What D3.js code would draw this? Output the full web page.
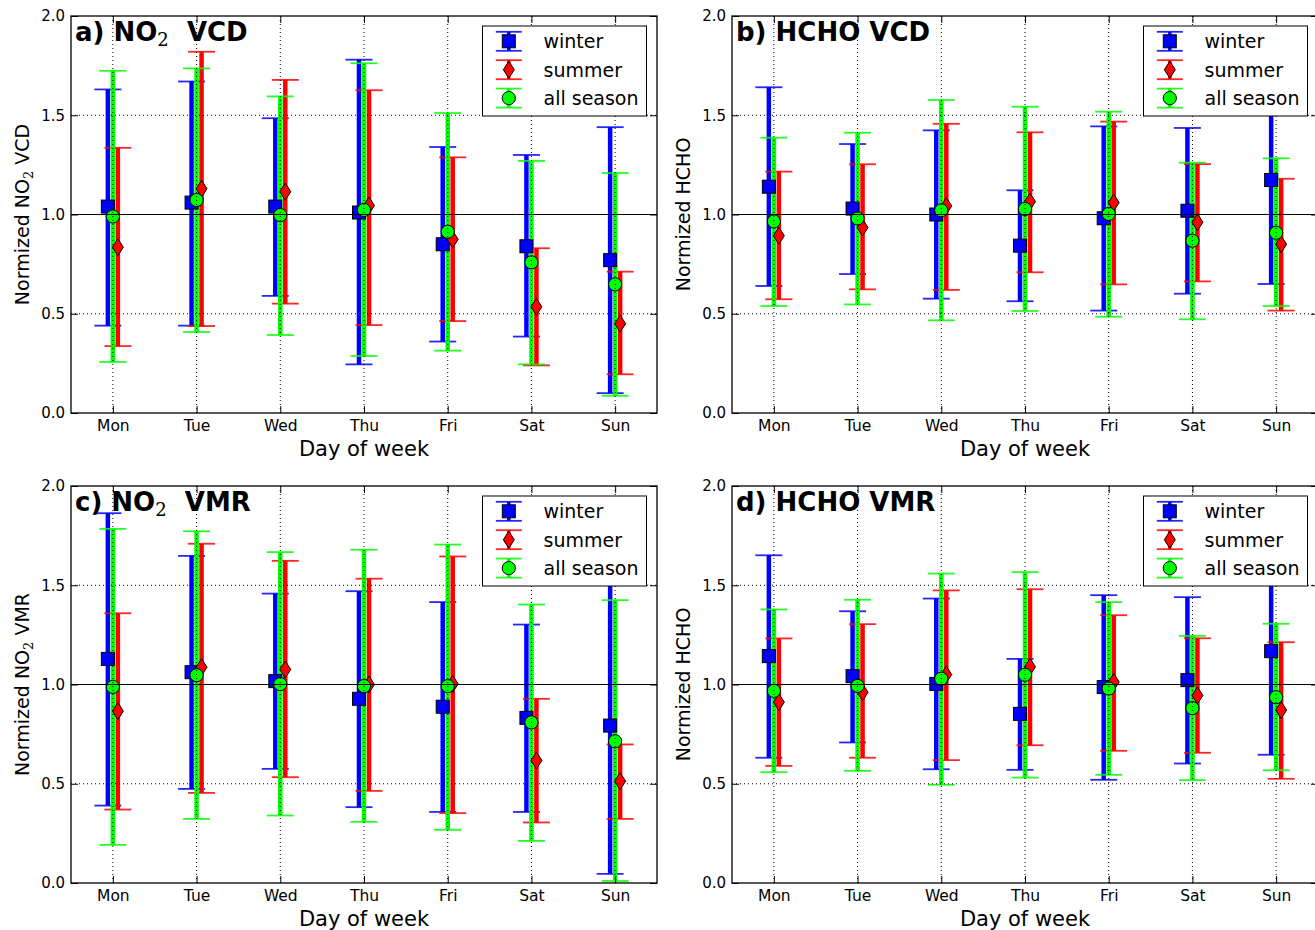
<!DOCTYPE html>
<html>
<head>
<meta charset="utf-8">
<script src="https://cdn.jsdelivr.net/npm/d3@7"></script>
<style>
  body { margin: 0; background: #fff; }
  svg { display: block; }
</style>
</head>
<body>
<svg id="fig" width="1315" height="930"></svg>
<script>
// ---- data -------------------------------------------------------------
const days = ["Mon", "Tue", "Wed", "Thu", "Fri", "Sat", "Sun"];
const yTicks = [0.0, 0.5, 1.0, 1.5, 2.0];
const seasons = ["winter", "summer", "all season"];

// a) NO2 VCD
const no2VcdWinterMean = [1.04, 1.06, 1.04, 1.01, 0.85, 0.84, 0.77];
const no2VcdWinterLow  = [0.44, 0.44, 0.59, 0.245, 0.36, 0.385, 0.10];
const no2VcdWinterHigh = [1.63, 1.67, 1.485, 1.78, 1.34, 1.30, 1.44];
const no2VcdSummerMean = [0.835, 1.13, 1.115, 1.045, 0.875, 0.535, 0.45];
const no2VcdSummerLow  = [0.337, 0.438, 0.551, 0.443, 0.463, 0.24, 0.195];
const no2VcdSummerHigh = [1.336, 1.82, 1.678, 1.626, 1.288, 0.83, 0.712];
const no2VcdAllMean    = [0.99, 1.073, 0.997, 1.023, 0.913, 0.759, 0.648];
const no2VcdAllLow     = [0.257, 0.408, 0.393, 0.287, 0.314, 0.245, 0.087];
const no2VcdAllHigh    = [1.724, 1.736, 1.595, 1.762, 1.511, 1.27, 1.209];

// b) HCHO VCD
const hchoVcdWinterMean = [1.14, 1.03, 1.0, 0.843, 0.981, 1.019, 1.174];
const hchoVcdWinterLow  = [0.64, 0.70, 0.576, 0.563, 0.516, 0.601, 0.65];
const hchoVcdWinterHigh = [1.641, 1.355, 1.424, 1.122, 1.444, 1.436, 1.66];
const hchoVcdSummerMean = [0.893, 0.934, 1.043, 1.065, 1.06, 0.961, 0.85];
const hchoVcdSummerLow  = [0.573, 0.623, 0.62, 0.709, 0.648, 0.663, 0.516];
const hchoVcdSummerHigh = [1.216, 1.253, 1.457, 1.414, 1.468, 1.254, 1.18];
const hchoVcdAllMean    = [0.965, 0.98, 1.021, 1.028, 1.003, 0.868, 0.908];
const hchoVcdAllLow     = [0.539, 0.547, 0.467, 0.514, 0.485, 0.472, 0.539];
const hchoVcdAllHigh    = [1.387, 1.412, 1.577, 1.543, 1.518, 1.261, 1.283];

// c) NO2 VMR
const no2VmrWinterMean = [1.129, 1.062, 1.017, 0.928, 0.888, 0.832, 0.793];
const no2VmrWinterLow  = [0.39, 0.474, 0.575, 0.382, 0.358, 0.358, 0.046];
const no2VmrWinterHigh = [1.863, 1.648, 1.458, 1.47, 1.415, 1.302, 1.60];
const no2VmrSummerMean = [0.866, 1.087, 1.076, 1.0, 1.003, 0.617, 0.513];
const no2VmrSummerLow  = [0.37, 0.454, 0.533, 0.464, 0.352, 0.305, 0.323];
const no2VmrSummerHigh = [1.359, 1.709, 1.623, 1.533, 1.645, 0.928, 0.698];
const no2VmrAllMean    = [0.988, 1.047, 1.002, 0.992, 0.992, 0.809, 0.714];
const no2VmrAllLow     = [0.192, 0.323, 0.34, 0.308, 0.268, 0.212, 0.01];
const no2VmrAllHigh    = [1.784, 1.772, 1.667, 1.679, 1.705, 1.403, 1.425];

// d) HCHO VMR
const hchoVmrWinterMean = [1.143, 1.042, 1.003, 0.852, 0.987, 1.022, 1.168];
const hchoVmrWinterLow  = [0.631, 0.708, 0.573, 0.57, 0.52, 0.602, 0.646];
const hchoVmrWinterHigh = [1.651, 1.369, 1.433, 1.129, 1.45, 1.44, 1.66];
const hchoVmrSummerMean = [0.911, 0.961, 1.05, 1.089, 1.013, 0.945, 0.871];
const hchoVmrSummerLow  = [0.59, 0.631, 0.619, 0.694, 0.666, 0.656, 0.525];
const hchoVmrSummerHigh = [1.232, 1.304, 1.474, 1.48, 1.349, 1.233, 1.213];
const hchoVmrAllMean    = [0.968, 0.993, 1.029, 1.049, 0.98, 0.881, 0.936];
const hchoVmrAllLow     = [0.558, 0.565, 0.495, 0.531, 0.545, 0.518, 0.568];
const hchoVmrAllHigh    = [1.378, 1.427, 1.559, 1.566, 1.415, 1.245, 1.306];

// ---- panel definitions ------------------------------------------------
const panels = [
  { left: 71,  top: 16,
    title: { pre: "a) NO", sub: "2", post: "  VCD" },
    ylabel: { pre: "Normized NO", sub: "2", post: " VCD" },
    series: [
      { mean: no2VcdWinterMean, low: no2VcdWinterLow, high: no2VcdWinterHigh },
      { mean: no2VcdSummerMean, low: no2VcdSummerLow, high: no2VcdSummerHigh },
      { mean: no2VcdAllMean,    low: no2VcdAllLow,    high: no2VcdAllHigh } ] },
  { left: 732, top: 16,
    title: { pre: "b) HCHO VCD" },
    ylabel: { pre: "Normized HCHO" },
    series: [
      { mean: hchoVcdWinterMean, low: hchoVcdWinterLow, high: hchoVcdWinterHigh },
      { mean: hchoVcdSummerMean, low: hchoVcdSummerLow, high: hchoVcdSummerHigh },
      { mean: hchoVcdAllMean,    low: hchoVcdAllLow,    high: hchoVcdAllHigh } ] },
  { left: 71,  top: 486,
    title: { pre: "c) NO", sub: "2", post: "  VMR" },
    ylabel: { pre: "Normized NO", sub: "2", post: " VMR" },
    series: [
      { mean: no2VmrWinterMean, low: no2VmrWinterLow, high: no2VmrWinterHigh },
      { mean: no2VmrSummerMean, low: no2VmrSummerLow, high: no2VmrSummerHigh },
      { mean: no2VmrAllMean,    low: no2VmrAllLow,    high: no2VmrAllHigh } ] },
  { left: 732, top: 486,
    title: { pre: "d) HCHO VMR" },
    ylabel: { pre: "Normized HCHO" },
    series: [
      { mean: hchoVmrWinterMean, low: hchoVmrWinterLow, high: hchoVmrWinterHigh },
      { mean: hchoVmrSummerMean, low: hchoVmrSummerLow, high: hchoVmrSummerHigh },
      { mean: hchoVmrAllMean,    low: hchoVmrAllLow,    high: hchoVmrAllHigh } ] }
];

// per-season drawing style (pixel offset keeps the three bars side by side)
const seasonStyle = [
  { color: "#0000ff", dx: -5, marker: "square" },
  { color: "#ff0000", dx: 5,  marker: "diamond" },
  { color: "#00ff00", dx: 0,  marker: "circle" }
];

const W = 586, H = 397;
const FONT = "DejaVu Sans";
const SUBFONT = "DejaVu Serif";

const svg = d3.select("#fig");

function mixedText(sel, parts, subSize, shift) {
  sel.style("white-space", "pre");
  sel.append("tspan").text(parts.pre);
  if (parts.sub) {
    sel.append("tspan")
      .attr("font-family", SUBFONT).attr("font-weight", "normal")
      .attr("font-size", subSize).attr("dy", shift).text(parts.sub);
    sel.append("tspan").attr("dy", -shift).text(parts.post);
  }
}

function drawMarker(sel, type, cx, cy, color) {
  if (type === "square") {
    sel.append("rect").attr("x", cx - 6.5).attr("y", cy - 6.5)
      .attr("width", 13).attr("height", 13)
      .attr("fill", color).attr("stroke", "#000").attr("stroke-width", 1);
  } else if (type === "circle") {
    sel.append("circle").attr("cx", cx).attr("cy", cy).attr("r", 6.6)
      .attr("fill", color).attr("stroke", "#000").attr("stroke-width", 1);
  } else {
    sel.append("path")
      .attr("d", `M${cx},${cy - 8.5}L${cx + 5.5},${cy}L${cx},${cy + 8.5}L${cx - 5.5},${cy}Z`)
      .attr("fill", color).attr("stroke", "#000").attr("stroke-width", 1);
  }
}

function drawPanel(p) {
  const g = svg.append("g");
  const x = d3.scaleLinear().domain([0.5, days.length + 0.5]).range([p.left, p.left + W]);
  const y = d3.scaleLinear().domain([yTicks[0], yTicks[yTicks.length - 1]]).range([p.top + H, p.top]);

  g.append("rect").attr("x", p.left).attr("y", p.top).attr("width", W).attr("height", H).attr("fill", "#fff");

  // error bars with caps for every season
  const barLayer = g.append("g");
  const markerLayer = g.append("g");
  p.series.forEach((s, si) => {
    const st = seasonStyle[si];
    const sg = barLayer.append("g");
    const xs = i => x(i + 1) + st.dx;
    sg.selectAll("line.bar").data(days).join("line").attr("class", "bar")
      .attr("x1", (d, i) => xs(i)).attr("x2", (d, i) => xs(i))
      .attr("y1", (d, i) => y(s.low[i])).attr("y2", (d, i) => y(s.high[i]))
      .attr("stroke", st.color).attr("stroke-width", 4.5);
    ["low", "high"].forEach(k => {
      sg.selectAll("line.cap-" + k).data(days).join("line").attr("class", "cap-" + k)
        .attr("x1", (d, i) => xs(i) - 13.5).attr("x2", (d, i) => xs(i) + 13.5)
        .attr("y1", (d, i) => y(s[k][i])).attr("y2", (d, i) => y(s[k][i]))
        .attr("stroke", st.color).attr("stroke-width", 1.8).attr("stroke-opacity", 0.85);
    });
    // mean markers sit above all bars
    const mg = markerLayer.append("g");
    days.forEach((d, i) => drawMarker(mg, st.marker, xs(i), y(s.mean[i]), st.color));
  });

  // reference line at 1
  g.append("line").attr("x1", p.left).attr("x2", p.left + W)
    .attr("y1", y(1)).attr("y2", y(1)).attr("stroke", "#000").attr("stroke-width", 1.2);

  // dotted grid
  const grid = g.append("g").attr("stroke", "#000").attr("stroke-width", 1)
    .attr("stroke-dasharray", "1,3");
  grid.selectAll("line.v").data(days).join("line").attr("class", "v")
    .attr("x1", (d, i) => x(i + 1)).attr("x2", (d, i) => x(i + 1))
    .attr("y1", p.top).attr("y2", p.top + H);
  grid.selectAll("line.h").data(yTicks.slice(1, -1)).join("line").attr("class", "h")
    .attr("x1", p.left).attr("x2", p.left + W)
    .attr("y1", d => y(d)).attr("y2", d => y(d));

  // axes with inward ticks on all four sides
  const styleAxis = a => {
    a.select(".domain").remove();
    a.attr("font-family", FONT).attr("font-size", 15);
    a.selectAll(".tick line").attr("stroke", "#000").attr("stroke-width", 1);
    a.selectAll(".tick text").attr("fill", "#000");
  };
  g.append("g").attr("transform", `translate(${p.left},0)`)
    .call(d3.axisLeft(y).tickValues(yTicks).tickFormat(d3.format(".1f")).tickSize(-7).tickPadding(6))
    .call(styleAxis);
  g.append("g").attr("transform", `translate(${p.left + W},0)`)
    .call(d3.axisRight(y).tickValues(yTicks).tickFormat("").tickSize(-7))
    .call(styleAxis);
  g.append("g").attr("transform", `translate(0,${p.top + H})`)
    .call(d3.axisBottom(x).tickValues(d3.range(1, days.length + 1)).tickFormat(i => days[i - 1]).tickSize(-7).tickPadding(7))
    .call(styleAxis)
    .attr("font-size", 15.5);
  g.append("g").attr("transform", `translate(0,${p.top})`)
    .call(d3.axisTop(x).tickValues(d3.range(1, days.length + 1)).tickFormat("").tickSize(-7))
    .call(styleAxis);

  g.append("rect").attr("x", p.left).attr("y", p.top).attr("width", W).attr("height", H)
    .attr("fill", "none").attr("stroke", "#000").attr("stroke-width", 1.3);

  // title inside the axes
  const t = g.append("text").attr("x", p.left + 4).attr("y", p.top + 25)
    .attr("font-family", FONT).attr("font-weight", "bold").attr("font-size", 26).attr("fill", "#000");
  mixedText(t, p.title, 18, 5);

  // axis labels
  g.append("text").attr("x", p.left + W / 2).attr("y", p.top + H + 43)
    .attr("text-anchor", "middle").attr("font-family", FONT).attr("font-size", 21)
    .attr("fill", "#000").text("Day of week");
  const yl = g.append("text")
    .attr("transform", `translate(${p.left - 42},${p.top + H / 2}) rotate(-90)`)
    .attr("text-anchor", "middle").attr("font-family", FONT).attr("font-size", 19).attr("fill", "#000");
  mixedText(yl, p.ylabel, 13, 4);

  // legend
  const lx = p.left + W - 174.5, ly = p.top + 10;
  const lg = g.append("g");
  lg.append("rect").attr("x", lx).attr("y", ly).attr("width", 164).attr("height", 90)
    .attr("fill", "#fff").attr("stroke", "#000").attr("stroke-width", 1);
  seasons.forEach((name, si) => {
    const st = seasonStyle[si];
    const cy = ly + 15.3 + si * 28.4;
    const hx = lx + 26.3;
    lg.append("line").attr("x1", hx).attr("x2", hx).attr("y1", cy - 9.5).attr("y2", cy + 9.5)
      .attr("stroke", st.color).attr("stroke-width", 3.5);
    [-9.5, 9.5].forEach(o => lg.append("line").attr("x1", hx - 13).attr("x2", hx + 13)
      .attr("y1", cy + o).attr("y2", cy + o)
      .attr("stroke", st.color).attr("stroke-width", 1.8).attr("stroke-opacity", 0.85));
    drawMarker(lg, st.marker, hx, cy, st.color);
    lg.append("text").attr("x", lx + 61).attr("y", cy + 7)
      .attr("font-family", FONT).attr("font-size", 19).attr("fill", "#000").text(name);
  });
}

panels.forEach(drawPanel);
</script>
</body>
</html>
